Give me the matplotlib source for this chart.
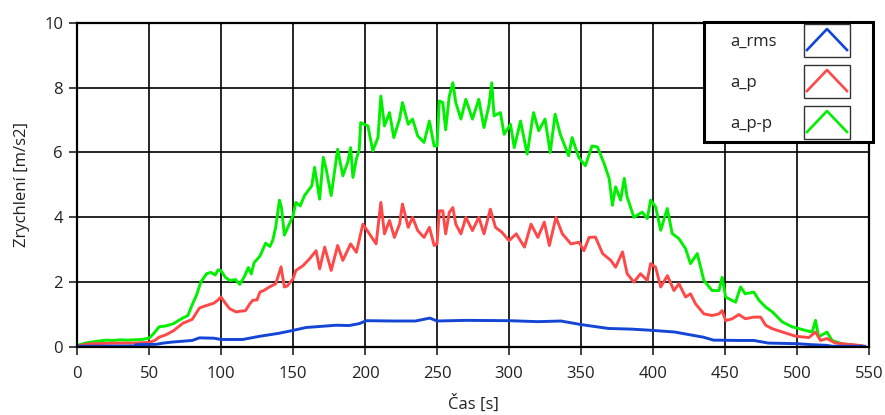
import matplotlib.pyplot as plt
from matplotlib.patches import Rectangle
from matplotlib.lines import Line2D

plt.rcParams['font.family'] = ['Open Sans', 'DejaVu Sans']

# values
t_pp = [0, 3, 6, 10, 15, 20, 25, 30, 35, 40, 45, 50, 53, 57, 62, 67, 73, 77, 80, 83,
        86, 90, 93, 96, 98, 100, 103, 106, 110, 113, 116, 119, 121, 123, 127, 131, 134, 136, 138, 140.6,
        142, 144, 147, 150, 152, 155, 158, 163, 165, 168.5, 171, 173, 176.5, 181, 184.6, 188, 190, 191.6, 194, 196,
        197, 202, 205.4, 209, 211, 213.5, 217, 220, 224, 226, 230, 233, 236.6, 241, 244.7, 248, 250, 251.6, 254, 256,
        258.5, 261, 263, 266.6, 270, 274.6, 279, 282.6, 286, 288, 289.6, 294, 296.6, 301, 303.6, 308, 312.6, 317, 320.6, 325,
        328.6, 332, 335.6, 341.4, 343.8, 348.4, 353, 357.6, 361.4, 366, 369.5, 371.8, 374, 377.5, 380, 382, 386.7, 392.5,
        396, 398.3, 401.8, 405.3, 409.9, 413.3, 418, 422.6, 426, 430.7, 435.3, 441, 445.8, 448, 450.4, 457.3, 460.8, 464,
        470, 473.6, 478.2, 482.9, 489.8, 496.6, 505.9, 510.5, 512.8, 515, 520.8, 524.3, 531, 540.4, 545]
a_pp = [0.05, 0.08, 0.12, 0.15, 0.18, 0.21, 0.2, 0.22, 0.21, 0.22, 0.23, 0.27, 0.4, 0.62, 0.65, 0.72, 0.88, 0.97, 1.3, 1.6,
        2.0, 2.26, 2.3, 2.22, 2.38, 2.35, 2.15, 2.05, 2.08, 1.93, 2.15, 2.45, 2.25, 2.6, 2.8, 3.2, 3.1, 3.3, 3.7, 4.53,
        4.3, 3.45, 3.75, 4.05, 4.46, 4.35, 4.67, 4.97, 5.54, 4.56, 5.85, 5.49, 4.67, 6.1, 5.28, 5.7, 6.15, 5.23, 5.8, 6.1,
        6.92, 6.82, 6.05, 6.46, 7.74, 6.82, 7.23, 6.46, 7.03, 7.54, 6.87, 7.03, 6.51, 6.31, 6.97, 6.2, 6.2, 7.59, 7.54, 6.7,
        7.74, 8.15, 7.54, 7.03, 7.64, 7.03, 7.64, 6.77, 7.44, 8.15, 7.13, 7.23, 6.56, 6.87, 6.15, 6.97, 5.95, 7.23, 6.67, 7.03,
        6.0, 7.18, 6.56, 5.9, 6.46, 5.85, 5.59, 6.2, 6.17, 5.66, 5.2, 4.37, 4.94, 4.53, 5.2, 4.63, 4.0, 4.16,
        3.96, 4.53, 4.32, 3.6, 4.27, 3.5, 3.34, 3.03, 2.57, 2.88, 2.05, 1.74, 1.74, 2.15, 1.54, 1.38, 1.85, 1.64,
        1.69, 1.44, 1.23, 1.08, 0.77, 0.62, 0.51, 0.46, 0.82, 0.31, 0.46, 0.2, 0.1, 0.05, 0.02]

t_p = [0, 3, 6, 10, 20, 30, 40, 50, 54, 57, 62, 67, 73.5, 80, 85, 90, 95, 98, 100, 103,
       106, 110.5, 113, 117, 120, 122, 125, 127, 130, 133.6, 138, 141.7, 144, 146, 150, 152, 157, 161.5, 166, 168.5,
       172, 176.5, 181, 184.6, 190, 194, 198.5, 203, 207.7, 211, 213.5, 217, 220.4, 224, 226, 230, 233, 236.6, 241, 244.7,
       248, 250, 251.6, 254, 256, 258.5, 261, 263, 266.6, 270, 274.6, 279, 282.6, 287, 290.6, 295, 300, 305, 310.7, 315.3,
       320, 324.5, 328, 332.6, 337, 343, 348.6, 352, 355.6, 360, 365, 370.7, 374, 378.8, 382, 386.7, 391.3, 396, 398.3, 401.8,
       405.3, 410, 414.5, 418, 422.6, 426, 429.5, 435.3, 441, 445.8, 448, 450.4, 455, 459.6, 464, 470, 474.7, 478.2, 482.9, 489.8,
       499, 508.2, 512.8, 516.3, 520.8, 526.6, 538, 545]
a_p = [0.02, 0.05, 0.08, 0.1, 0.11, 0.12, 0.12, 0.14, 0.2, 0.3, 0.38, 0.5, 0.73, 0.85, 1.2, 1.28, 1.35, 1.45, 1.54, 1.35,
       1.18, 1.08, 1.1, 1.12, 1.33, 1.44, 1.45, 1.69, 1.75, 1.85, 1.95, 2.47, 1.85, 1.88, 2.1, 2.36, 2.51, 2.72, 2.97, 2.41,
       3.08, 2.36, 3.13, 2.67, 3.18, 2.92, 3.79, 3.49, 3.18, 4.46, 3.49, 3.9, 3.38, 3.79, 4.41, 3.69, 4.0, 3.59, 3.38, 3.69,
       3.13, 3.18, 4.2, 4.2, 3.49, 4.15, 4.3, 3.79, 3.49, 4.0, 3.59, 4.0, 3.49, 4.25, 3.69, 3.54, 3.28, 3.49, 3.08, 3.79,
       3.38, 3.85, 3.13, 4.0, 3.49, 3.18, 3.23, 2.97, 3.38, 3.39, 2.88, 2.67, 2.46, 2.93, 2.26, 2.0, 2.26, 2.05, 2.57, 2.46,
       1.85, 2.2, 1.74, 1.95, 1.54, 1.64, 1.33, 1.02, 0.97, 1.02, 1.12, 0.81, 0.87, 1.0, 0.87, 0.92, 0.92, 0.67, 0.56, 0.46,
       0.33, 0.29, 0.46, 0.2, 0.26, 0.12, 0.07, 0.04]

t_rms = [0, 40, 41, 55, 60, 66, 80, 85, 95, 100, 115, 127, 140, 150, 159, 180, 189, 196, 201, 220,
         235, 245, 250, 270, 300, 320, 336, 350, 369, 385, 400, 415, 425, 435, 442, 460, 470, 480, 500, 510,
         520, 525, 547]
a_rms = [0.02, 0.03, 0.07, 0.08, 0.12, 0.15, 0.2, 0.28, 0.27, 0.23, 0.23, 0.33, 0.42, 0.51, 0.6, 0.67, 0.66, 0.72, 0.81, 0.8,
         0.8, 0.89, 0.8, 0.82, 0.81, 0.78, 0.8, 0.69, 0.57, 0.55, 0.51, 0.46, 0.38, 0.3, 0.21, 0.2, 0.2, 0.12, 0.1, 0.07,
         0.05, 0.02, 0.02]

labels = ['a_rms', 'a_p', 'a_p-p']
colors = ['#1446d6', '#ff4848', '#00f000']

fig = plt.figure(figsize=(8.85, 4.15), dpi=100)
ax = fig.add_axes([0.087, 0.164, 0.895, 0.781])

ax.plot(t_pp, a_pp, color=colors[2], lw=2.1)
ax.plot(t_p, a_p, color=colors[1], lw=2.1)
ax.plot(t_rms, a_rms, color=colors[0], lw=2.1)

ax.set_xlim(0, 550)
ax.set_ylim(0, 10)
ax.set_xticks(range(0, 551, 50))
ax.set_yticks(range(0, 11, 2))
ax.grid(True, color='black', lw=1.2)
ax.set_axisbelow(True)
for s in ax.spines.values():
    s.set_linewidth(1.6)
ax.tick_params(direction='out', length=6, width=1.2, labelsize=12, colors='#222222')
ax.tick_params(axis='x', pad=8)
ax.tick_params(axis='y', pad=4)
ax.set_xlabel('Čas [s]', fontsize=12, color='#222222', labelpad=9)
ax.set_ylabel('Zrychlení [m/s2]', fontsize=12, color='#222222', labelpad=10)

# LabVIEW-style legend drawn in figure pixels (origin bottom-left)
H = 415
def fy(y):
    return (H - y) / H

box = Rectangle((704 / 885, fy(142)), (873 - 704) / 885, (142 - 22) / H, transform=fig.transFigure,
                facecolor='white', edgecolor='black', lw=2.2, zorder=10)
fig.patches.append(box)
for i, (lab, col) in enumerate(zip(labels, colors)):
    top = 24 + i * 41
    fig.text(730 / 885, fy(top + 18), lab, fontsize=12, color='#222222', va='center', ha='left', zorder=11)
    sw = Rectangle((804 / 885, fy(top + 33)), 46 / 885, 33 / H, transform=fig.transFigure,
                   facecolor='white', edgecolor='#333333', lw=1.0, zorder=11)
    fig.patches.append(sw)
    fig.lines.append(Line2D([807 / 885, 827 / 885, 847 / 885], [fy(top + 26), fy(top + 5), fy(top + 26)],
                            transform=fig.transFigure, color=col, lw=1.9, zorder=12))

fig.savefig('out.png', dpi=100)
